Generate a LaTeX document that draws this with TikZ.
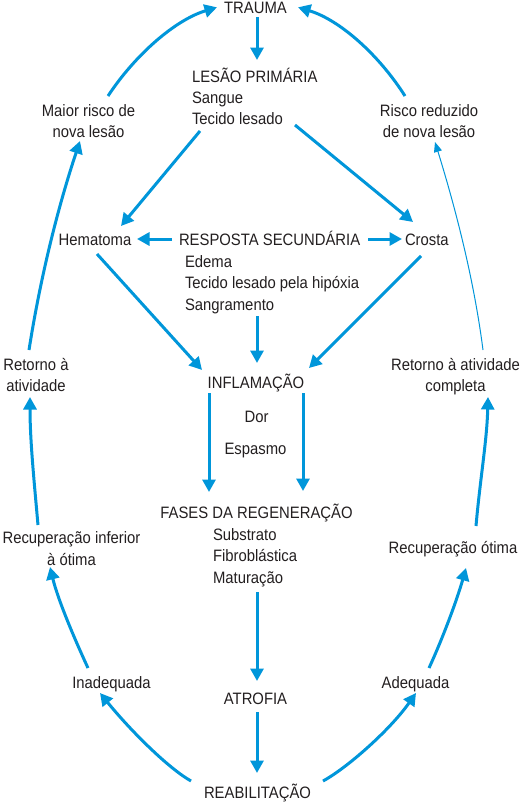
\documentclass[tikz,border=0pt]{standalone}
\usepackage{fontspec}
\setmainfont{Liberation Sans}[FakeStretch=0.9]
\usetikzlibrary{arrows.meta,calc}
\definecolor{arrowblue}{RGB}{0,150,218}
\definecolor{txt}{RGB}{35,31,32}
\newcommand{\stk}[3]{\fontsize{16.5}{#1}\selectfont\begin{tabular}[t]{@{}#2@{}}#3\end{tabular}}
\begin{document}
\begin{tikzpicture}[x=1pt,y=-1pt,
  lbl/.style={inner sep=0pt,outer sep=0pt,text=txt,font=\fontsize{16.5}{20.7}\selectfont,anchor=base},
  lblw/.style={lbl,anchor=base west},
  arr/.style={draw=arrowblue,line width=3pt,-{Triangle[length=12.5pt,width=13pt]},fill=none},
  thinarr/.style={draw=arrowblue,line width=1pt,-{Triangle[length=10pt,width=8pt]}}]
\useasboundingbox (0,0) rectangle (532,803);
\fill[white] (0,0) rectangle (532,803);

% nodes
\node[lbl]  (trauma) at (255.5,13.3) {TRAUMA};
\node[lblw] (lesao)  at (192,82.7)   {\stk{20.7}{l}{LESÃO PRIMÁRIA\\Sangue\\Tecido lesado}};
\node[lbl]  (maior)  at (88.5,116)   {\stk{21}{c}{Maior risco de\\nova lesão}};
\node[lbl]  (riscor) at (429,116)    {\stk{21}{c}{Risco reduzido\\de nova lesão}};
\node[lbl]  (hema)   at (95,245)     {Hematoma};
\node[lblw] (resp)   at (179,245)    {RESPOSTA SECUNDÁRIA};
\node[lblw] (crosta) at (405,245)    {Crosta};
\node[lblw] (edema)  at (185,267.7)  {\stk{21.2}{l}{Edema\\Tecido lesado pela hipóxia\\Sangramento}};
\node[lbl]  (infl)   at (256,388)    {INFLAMAÇÃO};
\node[lbl]  (retL)   at (36,370)     {\stk{21}{c}{Retorno à\\atividade}};
\node[lbl]  (retR)   at (455.5,370)  {\stk{21}{c}{Retorno à atividade\\completa}};
\node[lbl]  (dor)    at (256.5,422)  {Dor};
\node[lbl]  (esp)    at (255.5,454)  {Espasmo};
\node[lbl]  (fases)  at (256.5,518)  {FASES DA REGENERAÇÃO};
\node[lblw] (flist)  at (213,540)    {\stk{21.7}{l}{Substrato\\Fibroblástica\\Maturação}};
\node[lbl]  (recinf) at (71.5,543)   {\stk{22.5}{c}{Recuperação inferior\\à ótima}};
\node[lbl]  (recot)  at (453,553)    {Recuperação ótima};
\node[lbl]  (atro)   at (255.5,704)  {ATROFIA};
\node[lbl]  (reab)   at (257.5,798)  {REABILITAÇÃO};
\node[lbl]  (inad)   at (111.5,688)  {Inadequada};
\node[lbl]  (adeq)   at (415.5,688)  {Adequada};

% connectors
\draw[arr] ($(trauma.base)+(1.5,4)$) -- ($(lesao.base west)+(65,-22.7)$);
\draw[arr] ($(maior.base)+(19.5,-20)$) .. controls (135,55) and (175,20) .. ($(trauma.base)+(-38.5,-6)$);
\draw[arr] ($(riscor.base)+(-24,-20)$) .. controls (379,55) and (340,20) .. ($(trauma.base)+(42.5,-6)$);
\draw[arr] ($(retL.base)+(-7,-20)$) .. controls (40,280) and (57,210) .. ($(maior.base)+(-8.5,25)$);
\draw[thinarr] ($(retR.base)+(27.5,-20)$) .. controls (474,280) and (456,210) .. ($(riscor.base)+(6,26)$);
\draw[arr] ($(lesao.base west)+(8,48.3)$) -- ($(hema.base)+(26,-19)$);
\draw[arr] ($(lesao.base west)+(103,42.3)$) -- ($(crosta.base west)+(8,-23)$);
\draw[arr] ($(resp.base west)+(-7,-6)$) -- ($(hema.base)+(42,-6)$);
\draw[arr] ($(resp.base west)+(189,-6)$) -- ($(crosta.base west)+(-3,-6)$);
\draw[arr] ($(edema.base west)+(72,48.3)$) -- ($(infl.base)+(1,-25)$);
\draw[arr] ($(hema.base)+(2,9)$) -- ($(infl.base)+(-54,-18)$);
\draw[arr] ($(crosta.base west)+(16,11)$) -- ($(infl.base)+(53,-20)$);
\draw[arr] ($(infl.base)+(-47,5)$) -- ($(fases.base)+(-47.5,-26)$);
\draw[arr] ($(infl.base)+(47,5)$) -- ($(fases.base)+(46.5,-27)$);
\draw[arr] ($(recinf.base)+(-33.5,-18)$) .. controls (34,480) and (30,440) .. ($(retL.base)+(-6,27)$);
\draw[arr] ($(recot.base)+(23,-27)$) .. controls (480,480) and (487,440) .. ($(retR.base)+(32.5,27)$);
\draw[arr] ($(flist.base west)+(44,52)$) -- ($(atro.base)+(1.5,-23)$);
\draw[arr] ($(atro.base)+(1.5,8)$) -- ($(reab.base)+(-0.5,-25)$);
\draw[arr] ($(reab.base)+(-66.5,-17)$) .. controls (168,768) and (130,730) .. ($(inad.base)+(-11.5,5)$);
\draw[arr] ($(reab.base)+(65.5,-17)$) .. controls (347,768) and (390,730) .. ($(adeq.base)+(0.5,5)$);
\draw[arr] ($(inad.base)+(-23.5,-20)$) .. controls (75,640) and (58,600) .. ($(recinf.base)+(-21.5,24)$);
\draw[arr] ($(adeq.base)+(13.5,-20)$) .. controls (442,640) and (457,600) .. ($(recot.base)+(13,15)$);
\end{tikzpicture}
\end{document}
